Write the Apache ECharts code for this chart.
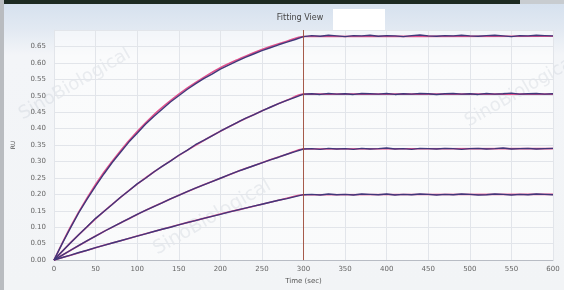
<!DOCTYPE html>
<html><head><meta charset="utf-8">
<script src="https://cdn.jsdelivr.net/npm/echarts@6/dist/echarts.min.js"></script>
<style>html,body{margin:0;padding:0;background:#eef1f4;}#c{width:564px;height:290px;}</style>
</head><body><div id="c"></div>
<script>
// time points (sec)
const timeData = [0,10,20,30,40,50,60,70,80,90,100,110,120,130,140,150,160,170,180,190,200,210,220,230,240,250,260,270,280,290,300,
  310,320,330,340,350,360,370,380,390,400,410,420,430,440,450,460,470,480,490,500,510,520,530,540,550,560,570,580,590,600];
const timeFit = [0,20,40,60,80,100,120,140,160,180,200,220,240,260,280,300,600];
const xTicks = [0,50,100,150,200,250,300,350,400,450,500,550,600];
const yTicks = [0,0.05,0.10,0.15,0.20,0.25,0.30,0.35,0.40,0.45,0.50,0.55,0.60,0.65];

// measured responses (RU)
const data1 = [0.000,0.051,0.099,0.145,0.186,0.225,0.262,0.297,0.328,0.359,0.386,0.413,0.437,0.459,0.481,0.500,0.519,0.536,0.552,0.566,0.581,0.593,0.605,0.617,0.627,0.637,0.646,0.655,0.663,0.671,0.680,
  0.683,0.681,0.684,0.682,0.680,0.683,0.682,0.684,0.681,0.683,0.682,0.680,0.683,0.685,0.682,0.681,0.683,0.682,0.684,0.682,0.681,0.683,0.684,0.682,0.680,0.683,0.682,0.684,0.683,0.682];
const data2 = [0.000,0.027,0.053,0.078,0.102,0.127,0.148,0.169,0.191,0.211,0.232,0.249,0.268,0.285,0.301,0.319,0.334,0.351,0.364,0.378,0.392,0.405,0.418,0.431,0.442,0.454,0.465,0.476,0.486,0.495,0.505,
  0.506,0.504,0.507,0.505,0.506,0.504,0.507,0.506,0.505,0.507,0.504,0.506,0.505,0.507,0.506,0.504,0.506,0.507,0.505,0.506,0.504,0.507,0.505,0.506,0.508,0.505,0.506,0.507,0.505,0.506];
const data3 = [0.000,0.015,0.030,0.045,0.059,0.073,0.087,0.100,0.113,0.126,0.139,0.151,0.163,0.174,0.186,0.197,0.208,0.219,0.229,0.239,0.249,0.259,0.269,0.278,0.287,0.296,0.305,0.313,0.322,0.330,0.338,
  0.339,0.337,0.340,0.338,0.339,0.337,0.340,0.338,0.339,0.341,0.338,0.339,0.337,0.340,0.339,0.338,0.340,0.339,0.337,0.339,0.340,0.338,0.339,0.341,0.338,0.339,0.340,0.338,0.339,0.340];
const data4 = [0.000,0.008,0.015,0.023,0.030,0.038,0.045,0.052,0.059,0.066,0.073,0.080,0.087,0.094,0.100,0.107,0.114,0.120,0.127,0.133,0.139,0.146,0.152,0.158,0.164,0.170,0.176,0.182,0.187,0.193,0.199,
  0.200,0.198,0.201,0.199,0.200,0.198,0.201,0.200,0.199,0.201,0.198,0.200,0.199,0.201,0.200,0.198,0.200,0.199,0.201,0.200,0.198,0.199,0.201,0.200,0.198,0.200,0.199,0.201,0.200,0.199];

// fitted curves (RU)
const fit1 = [0,0.102,0.190,0.267,0.333,0.391,0.442,0.485,0.523,0.556,0.585,0.609,0.631,0.650,0.666,0.680,0.681];
const fit2 = [0,0.053,0.102,0.148,0.191,0.231,0.268,0.302,0.334,0.364,0.392,0.418,0.442,0.465,0.486,0.505,0.505];
const fit3 = [0,0.030,0.059,0.087,0.113,0.139,0.163,0.186,0.208,0.229,0.249,0.269,0.287,0.305,0.322,0.338,0.339];
const fit4 = [0,0.015,0.030,0.045,0.059,0.073,0.087,0.101,0.114,0.127,0.140,0.152,0.164,0.176,0.188,0.199,0.200];

const pair = (t, v) => t.map((x, i) => [x, v[i]]);
const chart = echarts.init(document.getElementById('c'), null, {renderer: 'canvas'});

const fits = [fit1, fit2, fit3, fit4].map(f => ({
  type: 'line', data: pair(timeFit, f), showSymbol: false, smooth: 0.3,
  lineStyle: {color: '#e0508c', width: 1.6}, z: 2, silent: true
}));
const meas = [data1, data2, data3, data4].map(d => ({
  type: 'line', data: pair(timeData, d), showSymbol: false,
  lineStyle: {color: '#41377a', width: 1.4}, z: 3, silent: true
}));
meas[0].markLine = {
  symbol: 'none', silent: true, label: {show: false},
  lineStyle: {color: '#a04a38', width: 1, type: 'solid', opacity: 0.9},
  data: [{xAxis: 300}]
};

const wm = (x, y, s) => ({
  type: 'text', left: x, top: y, rotation: Math.PI / 6, z: 0, silent: true,
  style: {text: 'SinoBiological', fill: 'rgba(175,182,195,0.22)', font: s + 'px "DejaVu Sans"'}
});

chart.setOption({
  animation: false,
  backgroundColor: {
    type: 'linear', x: 0, y: 0, x2: 0, y2: 1,
    colorStops: [{offset: 0, color: '#d4e0ee'}, {offset: 0.1, color: '#e2e9f2'}, {offset: 0.19, color: '#f3f5f8'}, {offset: 1, color: '#f2f4f6'}]
  },
  title: {
    text: 'Fitting View', left: 295, top: 9, textAlign: 'center',
    textStyle: {fontSize: 8, fontWeight: 'normal', color: '#444', fontFamily: 'DejaVu Sans'}
  },
  grid: {left: 54, right: 11, top: 30, bottom: 25, show: true, backgroundColor: 'rgba(255,255,255,0.55)', borderWidth: 0},
  xAxis: {
    type: 'value', min: 0, max: 600, interval: 50,
    name: 'Time (sec)', nameLocation: 'middle', nameGap: 14,
    nameTextStyle: {fontSize: 7, color: '#555', fontFamily: 'DejaVu Sans'},
    axisLine: {show: true, lineStyle: {color: '#b8bcc4'}},
    axisTick: {show: false},
    axisLabel: {fontSize: 7, color: '#666', margin: 6, fontFamily: 'DejaVu Sans',
      formatter: v => xTicks.includes(v) ? String(v) : ''},
    splitLine: {show: true, lineStyle: {color: '#e2e5ea', width: 1}}
  },
  yAxis: {
    type: 'value', min: 0, max: 0.7, interval: 0.05,
    name: 'RU', nameLocation: 'middle', nameGap: 38, nameRotate: 90,
    nameTextStyle: {fontSize: 6, color: '#555', fontFamily: 'DejaVu Sans'},
    axisLine: {show: true, lineStyle: {color: '#e2e5ea'}},
    axisTick: {show: false},
    axisLabel: {fontSize: 7, color: '#666', margin: 8, fontFamily: 'DejaVu Sans', showMaxLabel: false,
      formatter: v => yTicks.some(t => Math.abs(t - v) < 1e-6) ? v.toFixed(2) : ''},
    splitLine: {show: true, lineStyle: {color: '#e2e5ea', width: 1}}
  },
  graphic: [
    {type: 'rect', left: 0, top: 0, shape: {width: 520, height: 4}, style: {fill: '#1d2a22'}, z: 10},
    {type: 'rect', left: 520, top: 0, shape: {width: 44, height: 4}, style: {fill: '#c8ccd0'}, z: 10},
    {type: 'rect', left: 0, top: 0, shape: {width: 4, height: 290}, style: {fill: '#b9bcc0'}, z: 10},
    {type: 'rect', left: 333, top: 9, shape: {width: 52, height: 21}, style: {fill: '#ffffff'}, z: 10},
    wm(16, 45, 18), wm(150, 176, 19), wm(462, 52, 18)
  ],
  series: [...fits, ...meas]
});
</script></body></html>
